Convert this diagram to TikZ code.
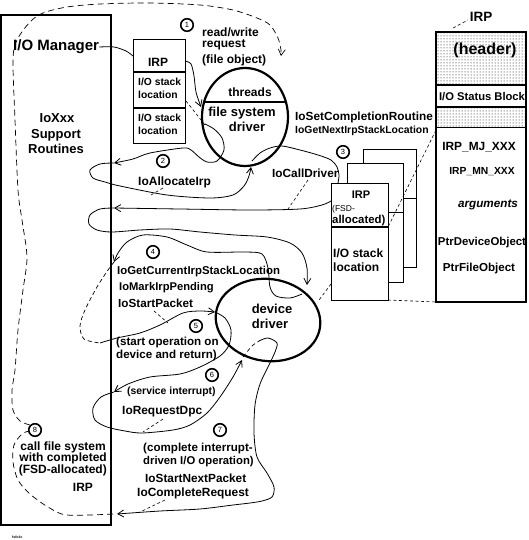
\documentclass[tikz,border=0pt]{standalone}
\usepackage{fontspec}
\setmainfont{Liberation Sans}
\usetikzlibrary{shapes.geometric, patterns, arrows.meta}
\tikzset{>={Straight Barb[length=6pt,width=7pt]}}
\tikzset{
  flow/.style={line width=0.8pt},
  leader/.style={line width=0.6pt, dash pattern=on 3pt off 2.5pt},
  bigloop/.style={line width=0.7pt, dash pattern=on 6pt off 4pt},
  inloop/.style={line width=0.7pt, dash pattern=on 4pt off 3pt},
  num/.style={circle, draw, line width=1.6pt, inner sep=0pt, minimum size=12.5pt, font=\fontsize{7.5}{8}\selectfont},
  lbl/.style={inner sep=0pt, anchor=west, font=\bfseries\fontsize{#1}{#1}\selectfont},
  lbl/.default=12,
  clbl/.style={inner sep=0pt, font=\bfseries\fontsize{#1}{#1}\selectfont},
  clbl/.default=12,
  rlbl/.style={inner sep=0pt, anchor=east, font=\bfseries\fontsize{#1}{#1}\selectfont},
  rlbl/.default=12
}
\begin{document}
\begin{tikzpicture}[x=1pt, y=-1pt]
    \useasboundingbox (0,0) rectangle (528,540);

    % I/O Manager
    \node[draw, line width=2pt, minimum width=110pt, minimum height=510pt, inner sep=0pt] (iomgr) at (56,270) {};
    \node[lbl=15] (mgrtxt) at (13,47) {I/O Manager};
    \node[clbl=13] (xxx) at (57,118) {IoXxx};
    \node[clbl=13] (supp) at (56,135) {Support};
    \node[clbl=13] (rout) at (56,149) {Routines};

    % IRP sent by the I/O Manager
    \node[draw, line width=0.8pt, minimum width=52pt, minimum height=104pt, inner sep=0pt] (irpa) at (159,91) {};
    \draw[line width=2pt] (133,72) -- (185,72);
    \draw[line width=2pt] (133,108) -- (185,108);
    \node[clbl=12] (irpatxt) at (158,62) {IRP};
    \node[lbl=10.3] (stka) at (138,82) {I/O stack};
    \node[lbl=10.3] (loca) at (138,95) {location};
    \node[lbl=10.3] (stkb) at (138,118) {I/O stack};
    \node[lbl=10.3] (locb) at (138,131) {location};

    % file system driver
    \node[draw, ellipse, line width=2.2pt, minimum width=86pt, minimum height=98pt, inner sep=0pt] (fsd) at (245,117) {};
    \draw[line width=2.5pt] (204,102) -- (286,102);
    \node[clbl=12] (thr) at (250,92) {threads};
    \node[clbl=13] (fsdtxt) at (242,113) {file system};
    \node[clbl=13] (fsddrv) at (247,127) {driver};

    % device driver
    \node[draw, ellipse, line width=2.2pt, minimum width=105pt, minimum height=82pt, inner sep=0pt, rotate=-8] (dd) at (268,320) {};
    \node[clbl=13] (ddtxt) at (272,309) {device};
    \node[clbl=13] (dddrv) at (270,324) {driver};

    % big IRP
    \fill[pattern=dots] (436,32) rectangle (526,85);
    \fill[pattern=dots] (436,107) rectangle (526,128);
    \draw[line width=1.3pt] (436,85) -- (526,85);
    \draw[line width=1.3pt] (436,107) -- (526,107);
    \draw[line width=1pt] (436,128) -- (526,128);
    \node[draw, line width=2pt, minimum width=90pt, minimum height=270pt, inner sep=0pt] (irp) at (481,167) {};
    \node[clbl=13.5] (irptitle) at (481,17) {IRP};
    \node[clbl=16] (hdr) at (485,50) {(header)};
    \node[clbl=11.2] (iosb) at (482,97) {I/O Status Block};
    \node[clbl=11.9] (mj) at (479,147) {IRP\_MJ\_XXX};
    \node[clbl=10.3] (mn) at (482,172) {IRP\_MN\_XXX};
    \node[inner sep=0pt, font=\bfseries\itshape\fontsize{11.7}{12}\selectfont] (args) at (488,205) {arguments};
    \node[clbl=11.4] (pdo) at (482,243) {PtrDeviceObject};
    \node[clbl=11.6] (pfo) at (479,268) {PtrFileObject};

    % FSD-allocated IRPs
    \draw[fill=white, line width=0.8pt] (363,149) rectangle (416,267);
    \draw[line width=0.8pt] (363,198) -- (416,198);
    \draw[fill=white, line width=0.8pt] (347,163) rectangle (403,282);
    \draw[line width=0.8pt] (347,212) -- (403,212);
    \node[draw, fill=white, line width=0.8pt, minimum width=57pt, minimum height=117pt, inner sep=0pt] (irpb) at (359.5,241.5) {};
    \draw[line width=2pt] (331,227) -- (388,227);
    \node[clbl=11] (irpbtxt) at (361,195) {IRP};
    \node[inner sep=0pt, anchor=west, font=\fontsize{8.5}{9}\selectfont] (fsdal) at (332,209) {(FSD-};
    \node[lbl=11.4] (alloc) at (332,221) {allocated)};
    \node[lbl=12] (stkc) at (333,253) {I/O stack};
    \node[lbl=12] (locc) at (333,267) {location};

    % step numbers
    \node[num] (s1) at (187,25) {1};
    \node[num] (s2) at (163,161) {2};
    \node[num] (s3) at (343,152) {3};
    \node[num] (s4) at (153,252) {4};
    \node[num] (s5) at (196,326) {5};
    \node[num] (s6) at (212,375) {6};
    \node[num] (s7) at (220,430) {7};
    \node[num] (s8) at (35,430) {8};

    % labels
    \node[lbl] (rw) at (202,32) {read/write};
    \node[lbl] (req) at (202,45) {request};
    \node[lbl] (fobj) at (202,60) {(file object)};
    \node[lbl] (alirp) at (138,182) {IoAllocateIrp};
    \node[lbl=11.8] (calld) at (272,173) {IoCallDriver};
    \node[lbl=11.8] (setcr) at (295,117) {IoSetCompletionRoutine};
    \node[lbl=10.4] (getnx) at (295,131) {IoGetNextIrpStackLocation};
    \node[lbl=11.4] (getcur) at (117,272) {IoGetCurrentIrpStackLocation};
    \node[lbl=11.2] (mark) at (119,288) {IoMarkIrpPending};
    \node[lbl=11.7] (stp) at (118,303) {IoStartPacket};
    \node[lbl=11.6] (start1) at (116,342) {(start operation on};
    \node[lbl=11.6] (start2) at (116,355) {device and return)};
    \node[lbl=10.4] (svc) at (127,392) {(service interrupt)};
    \node[lbl=11.9] (dpc) at (122,412) {IoRequestDpc};
    \node[lbl=11.6] (cmp1) at (143,448) {(complete interrupt-};
    \node[lbl=11.3] (cmp2) at (143,462) {driven I/O operation)};
    \node[lbl=11.8] (snp) at (145,478) {IoStartNextPacket};
    \node[lbl=11.9] (creq) at (137,493) {IoCompleteRequest};
    \node[rlbl] (call1) at (106,447) {call file system};
    \node[rlbl] (call2) at (107,458) {with completed};
    \node[rlbl] (call3) at (107,470) {(FSD-allocated)};
    \node[clbl] (call4) at (83,487) {IRP};
    \node[inner sep=0pt, anchor=west, font=\bfseries\fontsize{3.5}{4}\selectfont] (figid) at (12,537) {fsfo4c};

    % step 1
    \draw[flow] plot[smooth] coordinates {(mgrtxt.east) (114,47) (126,51) (133,56)};
    \draw[flow,->] plot[smooth] coordinates {(185,61) (191,64) (194,76) (196,92) (201,107)};
    \draw[leader] (186,101) -- (205,125);

    % step 2
    \draw[flow,->] plot[smooth] coordinates {(205,124) (214,129) (222,138) (224,150) (217,161) (207,162) (199,157) (191,150) (183,148) (150,153) (133,159) (114,163)};
    \draw[flow,->] plot[smooth] coordinates {(114,163) (100,164) (90,170) (93,178) (105,182) (120,186) (167,195) (210,198) (233,195) (244,186) (249,176) (251,167)};
    \draw[leader] (163,188) -- (151,195);

    % step 3
    \draw[flow] plot[smooth] coordinates {(252,161) (260,153) (270,148) (282,146) (300,150) (318,155) (331,160) (337,167) (339,175) (338,183)};
    \draw[flow,->] plot[smooth] coordinates {(331,201) (322,205) (300,209) (250,210) (180,209) (114,208)};
    \draw[leader] (308,180) -- (288,209);
    \draw[flow,->] plot[smooth] coordinates {(114,208) (100,209) (90,215) (89,224) (97,230) (112,232) (140,230) (170,229) (200,232) (235,235) (267,237) (290,243) (302,253) (307,268) (307,285)};

    % step 4
    \draw[flow,->] plot[smooth] coordinates {(302,294) (290,298) (276,296) (270,287) (268,268) (262,254) (245,252) (207,252) (187,245) (167,237) (143,235) (127,242) (118,253) (114,262)};
    \draw[inloop] plot[smooth] coordinates {(114,262) (108,270) (97,287) (85,310) (80,326) (84,339) (100,343)};
    \draw[flow,->] plot[smooth] coordinates {(100,343) (117,338) (140,333) (160,325) (183,313) (200,311) (215,312)};
    \draw[leader] (154,311) -- (168,323);

    % steps 5 and 6
    \draw[flow,->] plot[smooth] coordinates {(215,312) (225,318) (231,330) (229,345) (220,356) (200,367) (180,374) (150,377) (128,384) (114,392)};
    \draw[flow,->] plot[smooth] coordinates {(114,392) (101,397) (93,408) (95,420) (107,427) (125,431) (142,433) (173,430) (190,425) (207,413) (220,397) (233,377) (242,360)};
    \draw[leader] (163,419) -- (143,432);

    % step 7
    \draw[inloop] plot[smooth] coordinates {(243,357) (252,346) (259,341)};
    \draw[flow,->] plot[smooth] coordinates {(259,341) (268,338) (277,343) (275,352) (269,365) (260,384) (255,405) (254,433) (257,457) (267,473) (274,487) (272,497) (262,501) (250,503) (233,505) (200,509) (160,511) (117,514)};
    \draw[leader] (165,500) -- (140,512);

    % step 8
    \draw[bigloop] plot[smooth] coordinates {(113,514) (67,515) (48,507) (30,494) (18,480) (13,462) (14,445) (22,434) (29,431)};
    \draw[bigloop,->] plot[smooth] coordinates {(30,425) (20,421) (13,410) (12,390) (15,370) (18,330) (23,290) (27,257) (22,220) (18,190) (15,120) (13,60) (17,40) (30,22) (43,13) (67,7) (100,4) (150,3) (200,5) (233,10) (257,18) (270,25) (278,38) (281,50) (281,56)};

    % IRP detail
    \draw[leader] (453,28) -- (468,20);
    \draw[leader] (436,130) -- (388,227);
    \draw[leader] (388,300) -- (436,302);
    \draw[leader] (331,284) -- (319,300);
\end{tikzpicture}
\end{document}
